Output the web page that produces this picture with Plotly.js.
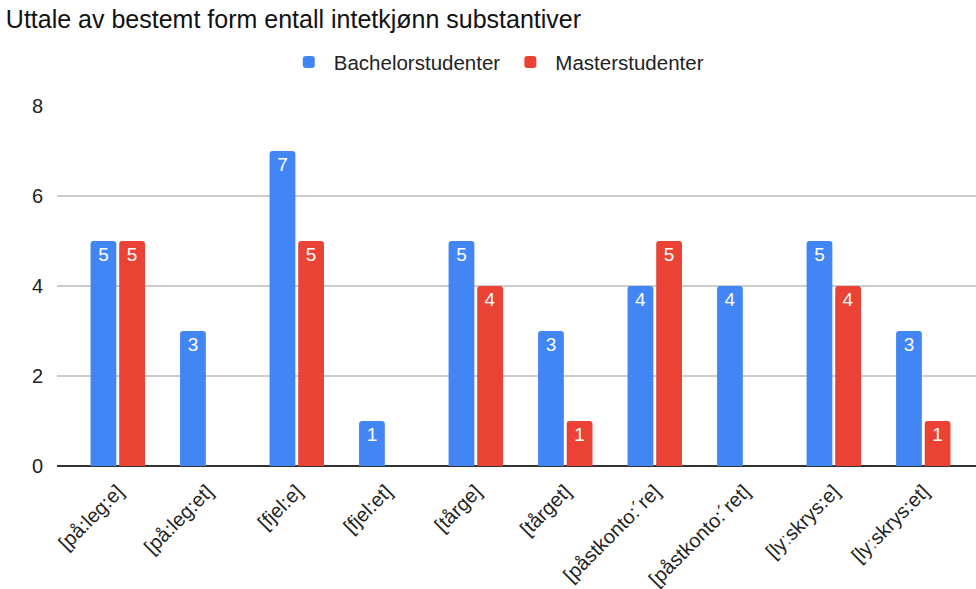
<!DOCTYPE html>
<html>
<head>
<meta charset="utf-8">
<script src="https://cdn.plot.ly/plotly-3.0.1.min.js"></script>
<style>html,body{margin:0;padding:0;background:#fff;}#chart{width:976px;height:589px;}</style>
</head>
<body>
<div id="chart"></div>
<script>
const categories = ["[på:leg:e]", "[på:leg:et]", "[fjel:e]", "[fjel:et]", "[tårge]", "[tårget]", "[påstkonto:´re]", "[påstkonto:´ret]", "[lyːskrys:e]", "[lyːskrys:et]"];
const bachelor = [5, 3, 7, 1, 5, 3, 4, 4, 5, 3];
const master = [5, 0, 5, 0, 4, 1, 5, 0, 4, 1];
const yTicks = [0, 2, 4, 6, 8];

function labels(vals) { return vals.map(v => v ? String(v) : ""); }

const common = {
  type: "bar",
  x: categories,
  textposition: "inside",
  insidetextanchor: "end",
  textfont: {color: "#ffffff", size: 19, family: "Liberation Sans, Arial, sans-serif"},
  hoverinfo: "x+y+name",
  cliponaxis: false
};

const data = [
  Object.assign({}, common, {name: "Bachelorstudenter", y: bachelor, text: labels(bachelor), marker: {color: "#4285F4"}}),
  Object.assign({}, common, {name: "Masterstudenter", y: master, text: labels(master), marker: {color: "#EA4335"}})
];

const layout = {
  width: 976, height: 589,
  margin: {l: 57, r: 0, t: 106, b: 123},
  paper_bgcolor: "#ffffff", plot_bgcolor: "#ffffff",
  font: {family: "Liberation Sans, Arial, sans-serif", color: "#222222"},
  title: {text: "Uttale av bestemt form entall intetkjønn substantiver", x: 0.006, xanchor: "left", xref: "container", y: 0.968, yanchor: "middle", yref: "container", font: {size: 25, color: "#111111"}},
  barmode: "group",
  bargap: 0.36,
  bargroupgap: 0.1,
  barcornerradius: 3,
  showlegend: true,
  legend: {orientation: "h", x: 0.478, xanchor: "center", y: 1.122, yanchor: "middle", font: {size: 20.5, color: "#222222"}, itemwidth: 40},
  xaxis: {
    type: "category",
    range: [-0.679, 9.589],
    tickangle: -45,
    tickfont: {size: 20, color: "#222222"},
    showgrid: false,
    ticks: "outside", ticklen: 5, tickcolor: "rgba(0,0,0,0)",
    showline: false,
    zeroline: false,
    fixedrange: true
  },
  yaxis: {
    range: [0, 8],
    tickvals: yTicks,
    ticktext: yTicks.map(String),
    tickfont: {size: 20, color: "#222222"},
    gridcolor: "#cccccc",
    gridwidth: 1.3,
    zeroline: true, zerolinecolor: "#333333", zerolinewidth: 1.5,
    ticks: "outside", ticklen: 9, tickcolor: "rgba(0,0,0,0)",
    showline: false,
    fixedrange: true
  }
};

Plotly.newPlot("chart", data, layout, {displayModeBar: false, staticPlot: true});
</script>
</body>
</html>
